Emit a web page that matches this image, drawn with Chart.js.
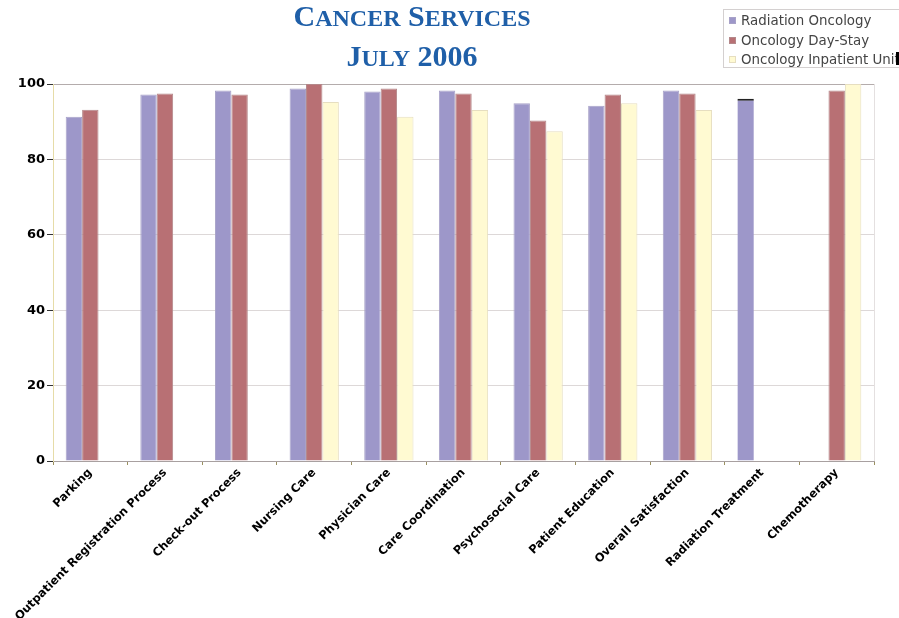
<!DOCTYPE html>
<html>
<head>
<meta charset="utf-8">
<script src="https://cdn.jsdelivr.net/npm/chart.js@4/dist/chart.umd.min.js"></script>
<style>
  html, body { margin: 0; padding: 0; background: #fff; }
  #wrap { position: relative; width: 899px; height: 618px; overflow: hidden; }
  #chart { position: absolute; left: 0; top: 0; }
  #title {
    position: absolute; left: 0; top: -3px; width: 824px; text-align: center;
    font-family: "Liberation Serif", "DejaVu Serif", serif; font-weight: bold;
    color: #1f5fa8; font-size: 30px; line-height: 38px;
  }
  #title .sc { font-size: 24px; }
  #legend {
    position: absolute; left: 723px; top: 9px; width: 200px; height: 57px;
    border: 1px solid #d4d0d0; background: #fff;
    font-family: "DejaVu Sans", sans-serif; font-size: 13.4px; color: #444;
  }
  #legend .item { position: absolute; left: 17px; height: 19px; line-height: 19px; white-space: nowrap; }
  #legend .sw { position: absolute; left: -12px; top: 6px; width: 7px; height: 7px; box-sizing: border-box; }
  #cut { position: absolute; left: 896px; top: 52px; width: 3px; height: 13px; background: #000; }
</style>
</head>
<body>
<div id="wrap">
  <canvas id="chart" width="899" height="618"></canvas>
  <div id="title">C<span class="sc">ANCER</span> S<span class="sc">ERVICES</span><br>J<span class="sc">ULY</span> 2006</div>
  <div id="legend"></div>
  <div id="cut"></div>
</div>
<script>
// chart data
const categories = [
  'Parking', 'Outpatient Registration Process', 'Check-out Process', 'Nursing Care',
  'Physician Care', 'Care Coordination', 'Psychosocial Care', 'Patient Education',
  'Overall Satisfaction', 'Radiation Treatment', 'Chemotherapy'
];
const seriesNames = ['Radiation Oncology', 'Oncology Day-Stay', 'Oncology Inpatient Unit'];
const radiationOncology = [91.3, 97.2, 98.3, 98.8, 98.0, 98.3, 94.9, 94.2, 98.3, 96.1, null];
const dayStay = [93.2, 97.5, 97.2, 100, 98.8, 97.5, 90.3, 97.2, 97.5, null, 98.3];
const inpatientUnit = [null, null, null, 95.2, 91.3, 93.1, 87.5, 94.9, 93.1, null, 100];
const yTicks = [0, 20, 40, 60, 80, 100];

const fills = ['#9d97c9', '#b87074', '#fffad2'];
const edges = ['#a8a2c8', '#b4888a', '#e6dec0'];

// legend as plain html
const legendEl = document.getElementById('legend');
seriesNames.forEach((name, i) => {
    const item = document.createElement('div');
    item.className = 'item';
    item.style.top = (1 + i * 19.5) + 'px';
    const sw = document.createElement('span');
    sw.className = 'sw';
    sw.style.background = fills[i];
    sw.style.border = '1px solid ' + edges[i];
    item.appendChild(sw);
    item.appendChild(document.createTextNode(name));
    legendEl.appendChild(item);
});

function makeSet(i, data) {
    return {
        label: seriesNames[i],
        data: data,
        backgroundColor: fills[i],
        // the radiation treatment bar has a dark cap in the original
        borderColor: ctx => (i === 0 && ctx.dataIndex === 9) ? '#222' : edges[i],
        borderWidth: ctx => (i === 0 && ctx.dataIndex === 9) ? { top: 2, left: 0, right: 0, bottom: 0 } : 1,
        borderSkipped: 'bottom',
        categoryPercentage: 0.66,
        barPercentage: 1.0
    };
}

const tickFont = { family: '"DejaVu Sans", sans-serif', weight: 'bold', size: 13 };

new Chart(document.getElementById('chart').getContext('2d'), {
    type: 'bar',
    data: {
        labels: categories,
        datasets: [makeSet(0, radiationOncology), makeSet(1, dayStay), makeSet(2, inpatientUnit)]
    },
    options: {
        responsive: false,
        animation: false,
        layout: { padding: { top: 84, right: 25, left: 0, bottom: 0 } },
        plugins: { legend: { display: false }, title: { display: false }, tooltip: { enabled: false } },
        scales: {
            x: {
                grid: { display: true, drawOnChartArea: false, drawTicks: true, tickLength: 4, tickColor: '#9a9060' },
                border: { display: true, color: '#a8a0a0', width: 1 },
                ticks: {
                    color: '#000', font: { family: '"DejaVu Sans", sans-serif', weight: 'bold', size: 11.5 },
                    minRotation: 45, maxRotation: 45, autoSkip: false, padding: 1
                },
                afterFit: scale => { scale.height = 157; }
            },
            y: {
                min: 0, max: 100,
                afterBuildTicks: scale => { scale.ticks = yTicks.map(v => ({ value: v })); },
                grid: {
                    color: ctx => ctx.tick && ctx.tick.value === 100 ? '#b4acac' : '#ddd8d8',
                    tickColor: '#333', tickLength: 6
                },
                border: { display: true, color: '#e6dca8', width: 1 },
                ticks: { color: '#000', font: tickFont, padding: 2 },
                afterFit: scale => { scale.width = 53; }
            }
        }
    },
    plugins: [{
        // faint right frame of the plot area
        id: 'rightFrame',
        afterDraw(chart) {
            const { ctx, chartArea } = chart;
            ctx.save();
            ctx.strokeStyle = '#e4e0e0';
            ctx.beginPath();
            ctx.moveTo(chartArea.right + 0.5, chartArea.top);
            ctx.lineTo(chartArea.right + 0.5, chartArea.bottom);
            ctx.stroke();
            ctx.restore();
        }
    }]
});
</script>
</body>
</html>
